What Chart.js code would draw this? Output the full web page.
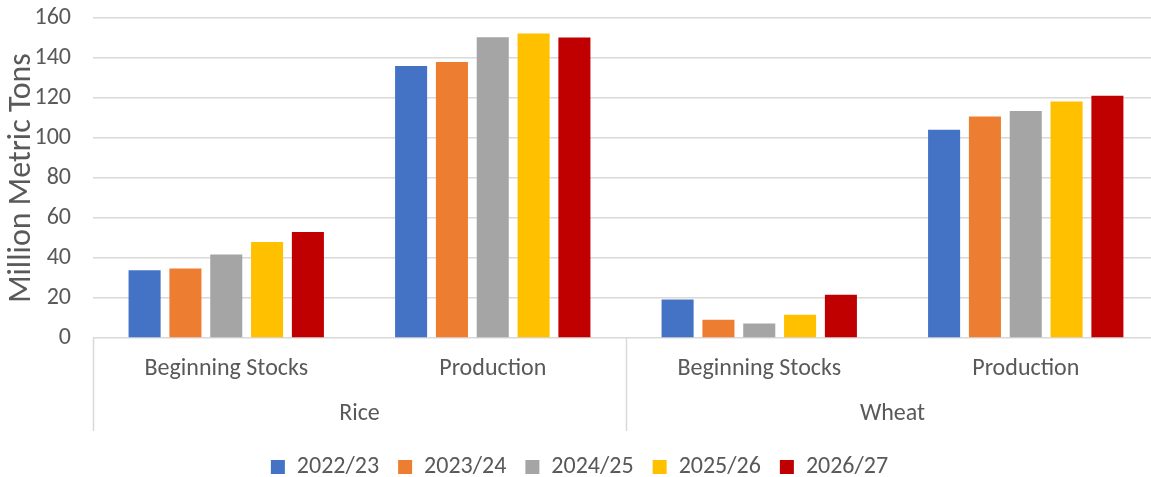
<!DOCTYPE html>
<html>
<head>
<meta charset="utf-8">
<script src="https://cdn.jsdelivr.net/npm/chart.js@4.4.1/dist/chart.umd.min.js"></script>
<style>
  html, body { margin: 0; padding: 0; background: #ffffff; overflow: hidden; }
  #wrap { width: 1151px; height: 477px; overflow: hidden; position: relative; }
  canvas { display: block; }
</style>
</head>
<body>
<div id="wrap"><canvas id="c" width="1160" height="477"></canvas></div>
<script>
// ---- data ----
const categories = ["Beginning Stocks", "Production", "Beginning Stocks", "Production"];
const groups = ["Rice", "Wheat"];
const seriesNames = ["2022/23", "2023/24", "2024/25", "2025/26", "2026/27"];
const s2022 = [33.9, 136.0, 19.3, 104.1];
const s2023 = [34.7, 138.0, 9.1, 110.7];
const s2024 = [41.8, 150.4, 7.2, 113.5];
const s2025 = [48.0, 152.3, 11.6, 118.2];
const s2026 = [53.0, 150.3, 21.6, 121.1];
const yTicks = [0, 20, 40, 60, 80, 100, 120, 140, 160];

const colors = ["#4472C4", "#ED7D31", "#A5A5A5", "#FFC000", "#C00000"];
const seriesValues = [s2022, s2023, s2024, s2025, s2026];
const FONT = "Carlito, Lato, 'Open Sans', sans-serif";
const FS = 24;
const TXT = "#595959";

const separators = {
  id: "separators",
  afterDraw(chart) {
    const x = chart.scales.x, x2 = chart.scales.x2;
    const ctx = chart.ctx;
    const step = x.getPixelForValue(1) - x.getPixelForValue(0);
    const top = chart.chartArea.bottom;
    const bottom = x2.bottom - 5;
    ctx.save();
    ctx.strokeStyle = "#D9D9D9";
    ctx.lineWidth = 1.5;
    [0, 2].forEach(i => {
      const px = Math.round(x.getPixelForValue(i) - step / 2) + 0.5;
      ctx.beginPath();
      ctx.moveTo(px, top);
      ctx.lineTo(px, bottom);
      ctx.stroke();
    });
    ctx.restore();
  }
};

new Chart(document.getElementById("c"), {
  type: "bar",
  data: {
    labels: categories,
    datasets: seriesNames.map((n, i) => ({
      label: n,
      data: seriesValues[i],
      backgroundColor: colors[i],
      borderWidth: 0,
      categoryPercentage: 0.766,
      barPercentage: 0.785
    }))
  },
  options: {
    responsive: false,
    animation: false,
    layout: { padding: { top: 18, right: 1, left: 0, bottom: -12 } },
    plugins: {
      tooltip: { enabled: false },
      legend: {
        position: "bottom",
        labels: {
          font: { family: FONT, size: FS },
          color: TXT,
          boxWidth: 14,
          boxHeight: 14,
          padding: 19
        }
      }
    },
    scales: {
      y: {
        min: 0, max: 160,
        afterBuildTicks(scale) { scale.ticks = yTicks.map(v => ({ value: v })); },
        afterFit(scale) { scale.width = 93; scale.paddingTop = 0; scale.paddingBottom = 0; },
        border: { display: false },
        grid: { color: "#D9D9D9", lineWidth: 1.5, drawTicks: false },
        ticks: { font: { family: FONT, size: FS }, color: TXT, padding: 22 },
        title: {
          display: true,
          text: "Million Metric Tons",
          font: { family: FONT, size: 32 },
          color: TXT,
          padding: { top: 3, bottom: 0 }
        }
      },
      x: {
        position: "bottom",
        afterFit(scale) { scale.height = 56; },
        border: { display: false },
        grid: { display: false, drawTicks: false },
        ticks: { font: { family: FONT, size: FS }, color: TXT, padding: 17, maxRotation: 0, autoSkip: false }
      },
      x2: {
        type: "category",
        position: "bottom",
        labels: groups,
        offset: true,
        afterFit(scale) { scale.height = 42; },
        border: { display: false },
        grid: { display: false, drawTicks: false },
        ticks: { font: { family: FONT, size: FS }, color: TXT, padding: 6, maxRotation: 0, autoSkip: false }
      }
    }
  },
  plugins: [separators]
});
</script>
</body>
</html>
